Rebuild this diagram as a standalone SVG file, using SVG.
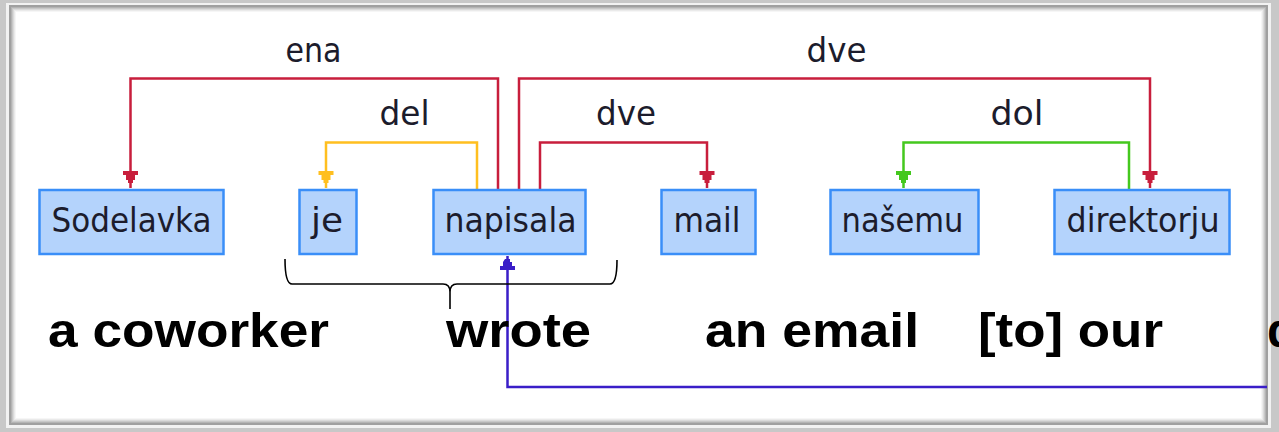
<svg xmlns="http://www.w3.org/2000/svg" width="1279" height="432" viewBox="0 0 1279 432">
<style>
.box{fill:#b4d3fc;stroke:#3a8ef8;stroke-width:2.5}
.nt{font-family:"DejaVu Sans",Verdana,sans-serif;font-size:34px;fill:#1c1c2c;text-anchor:middle}
.lb{font-family:"DejaVu Sans",Verdana,sans-serif;font-size:34px;fill:#1c1c2c;text-anchor:middle}
.bt{font-family:"Liberation Sans",Arial,sans-serif;font-size:48px;font-weight:bold;fill:#000}
.ln{fill:none;stroke-width:2.5}
.red{stroke:#c81e3c}.yel{stroke:#ffbf1f}.grn{stroke:#44c81e}.blu{stroke:#3a1ec8}
</style>
<defs>
<path id="ahd" d="M-7.5,0 H7.5 V4 H4.5 V9 H2.5 V12 H-2.5 V9 H-4.5 V4 H-7.5 Z"/>
<path id="ahu" d="M-2.5,0 H2.5 V3 H4.5 V7 H7.5 V11 H-7.5 V7 H-4.5 V3 Z"/>
</defs>
<g id="frame">
<rect x="0" y="0" width="1279" height="432" fill="#c8c8c8"/>
<rect x="6" y="3" width="1265" height="425" fill="#f2f2f2"/>
<rect x="9" y="5" width="1259" height="420" fill="#a0a0a0"/>
<rect x="11" y="7" width="1255" height="416" fill="#b4b4b4"/>
<rect x="12" y="8" width="1253" height="414" fill="#c8c8c8"/>
<rect x="13" y="9" width="1251" height="412" fill="#dadada"/>
<rect x="14" y="10" width="1249" height="410" fill="#eaeaea"/>
<rect x="15" y="11" width="1247" height="408" fill="#f6f6f6"/>
<rect x="16" y="12" width="1245" height="406" fill="#ffffff"/>
</g>
<g id="connectors">
<path class="ln red" d="M498,189 V78.5 H130.5 V188"/>
<path class="ln red" d="M519,189 V78.5 H1150 V188"/>
<path class="ln yel" d="M477,189 V142.5 H326 V188"/>
<path class="ln red" d="M540,189 V142.5 H707 V188"/>
<path class="ln grn" d="M1129,189 V142.5 H903.5 V188"/>
<path class="ln blu" d="M507.5,256 V387 H1267"/>
<use href="#ahd" x="130.5" y="171" fill="#c81e3c"/>
<use href="#ahd" x="1150" y="171" fill="#c81e3c"/>
<use href="#ahd" x="326" y="171" fill="#ffbf1f"/>
<use href="#ahd" x="707" y="171" fill="#c81e3c"/>
<use href="#ahd" x="903.5" y="171" fill="#44c81e"/>
<use href="#ahu" x="507.5" y="259" fill="#3a1ec8"/>
<text class="lb" x="313.5" y="62" textLength="56" lengthAdjust="spacingAndGlyphs">ena</text>
<text class="lb" x="836.5" y="62" textLength="60" lengthAdjust="spacingAndGlyphs">dve</text>
<text class="lb" x="404.5" y="125" textLength="50" lengthAdjust="spacingAndGlyphs">del</text>
<text class="lb" x="626" y="125" textLength="60" lengthAdjust="spacingAndGlyphs">dve</text>
<text class="lb" x="1017" y="125" textLength="53" lengthAdjust="spacingAndGlyphs">dol</text>
</g>
<g id="n-sodelavka"><rect class="box" x="39.5" y="190" width="184" height="64"/><text class="nt" x="131.5" y="232" textLength="160" lengthAdjust="spacingAndGlyphs">Sodelavka</text></g>
<g id="n-je"><rect class="box" x="299.5" y="190" width="57" height="64"/><text class="nt" x="327" y="232" textLength="32" lengthAdjust="spacingAndGlyphs">je</text></g>
<g id="n-napisala"><rect class="box" x="433.5" y="190" width="152" height="64"/><text class="nt" x="510.5" y="232" textLength="132" lengthAdjust="spacingAndGlyphs">napisala</text></g>
<g id="n-mail"><rect class="box" x="661.5" y="190" width="94" height="64"/><text class="nt" x="707" y="232" textLength="67" lengthAdjust="spacingAndGlyphs">mail</text></g>
<g id="n-nasemu"><rect class="box" x="830.5" y="190" width="148" height="64"/><text class="nt" x="902.5" y="232" textLength="122" lengthAdjust="spacingAndGlyphs">našemu</text></g>
<g id="n-direktorju"><rect class="box" x="1054.5" y="190" width="175" height="64"/><text class="nt" x="1143" y="232" textLength="153" lengthAdjust="spacingAndGlyphs">direktorju</text></g>
<g id="brace">
<path d="M285,259 Q285,284 292,284 H443 Q450,284 450,292 V309 M450,292 Q450,284 457,284 H610 Q617,284 617,260" fill="none" stroke="#000" stroke-width="1.6"/>
</g>
<g id="gloss">
<text class="bt" x="48" y="347" textLength="281" lengthAdjust="spacingAndGlyphs">a coworker</text>
<text class="bt" x="446" y="347" textLength="145" lengthAdjust="spacingAndGlyphs">wrote</text>
<text class="bt" x="705" y="347" textLength="214" lengthAdjust="spacingAndGlyphs">an email</text>
<text class="bt" x="978" y="347" textLength="185" lengthAdjust="spacingAndGlyphs">[to] our</text>
<text class="bt" x="1267" y="347">d</text>
</g>
</svg>
